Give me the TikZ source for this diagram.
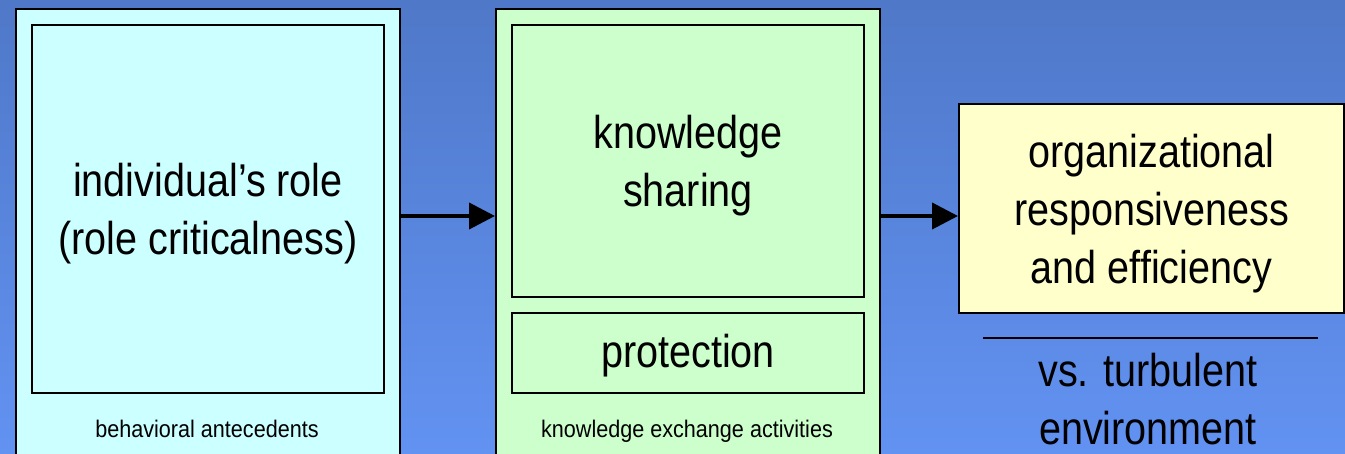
\documentclass[tikz,border=0pt]{standalone}
\usepackage{fontspec}
\setmainfont{Liberation Sans}[FakeStretch=0.86]
\newfontfamily\rotulofont{Liberation Sans}[FakeStretch=0.9]
\usetikzlibrary{arrows.meta, calc}

\definecolor{fundoA}{RGB}{79,120,200}
\definecolor{fundoB}{RGB}{98,146,242}
\definecolor{ciano}{RGB}{204,255,255}
\definecolor{verde}{RGB}{204,255,204}
\definecolor{amarelo}{RGB}{255,255,204}

\tikzset{
  caixa/.style={draw=black, line width=2pt, inner sep=0pt, anchor=north west},
  texto/.style={align=center, inner sep=0pt, font=\fontsize{46}{58}\selectfont},
  rotulo/.style={font=\rotulofont\fontsize{24}{28}\selectfont, anchor=base},
  seta/.style={line width=4pt, -{Triangle[length=26pt,width=26pt]}},
}

\begin{document}
\begin{tikzpicture}[x=1pt, y=-1pt]
  % fundo
  \clip (0,0) rectangle (1345,454);
  \shade[top color=fundoA, bottom color=fundoB] (0,0) rectangle (1345,454);

  % antecedentes
  \node[caixa, fill=ciano, minimum width=384pt, minimum height=480pt]
    (antecedentes) at (15,8) {};
  \node[caixa, fill=ciano, minimum width=352pt, minimum height=368pt]
    (papel) at (31,24) {};
  \node[texto] (papelT) at ([yshift=-5pt]papel.center)
    {individual's role\\(role criticalness)};
  \node[rotulo] (rotuloA) at (207,438) {behavioral antecedents};

  % atividades de troca
  \node[caixa, fill=verde, minimum width=384pt, minimum height=480pt]
    (atividades) at (495,8) {};
  \node[caixa, fill=verde, minimum width=352pt, minimum height=272pt]
    (partilha) at (511,24) {};
  \node[texto] (partilhaT) at ([yshift=-5pt]partilha.center) {knowledge\\sharing};
  \node[caixa, fill=verde, minimum width=352pt, minimum height=80pt]
    (protecao) at (511,312) {};
  \node[texto] (protecaoT) at ([yshift=-3pt]protecao.center) {protection};
  \node[rotulo] (rotuloB) at (687,438) {knowledge exchange activities};

  % resultado
  \node[caixa, fill=amarelo, minimum width=385pt, minimum height=209pt]
    (resultado) at (958,103) {};
  \node[texto] (resultadoT) at ([yshift=-5pt]resultado.center)
    {organizational\\responsiveness\\and efficiency};

  % setas
  \coordinate (linha) at (0,216);
  \draw[seta] (antecedentes.east |- linha) -- (atividades.west |- linha);
  \draw[seta] (atividades.east |- linha) -- (resultado.west |- linha);

  % ambiente
  \coordinate (regraA) at (983,338);
  \coordinate (regraB) at (1318,338);
  \draw[line width=1.5pt] (regraA) -- (regraB);
  \node[texto, anchor=north] (ambiente) at (1148,353) {vs. turbulent\\environment};
\end{tikzpicture}
\end{document}
